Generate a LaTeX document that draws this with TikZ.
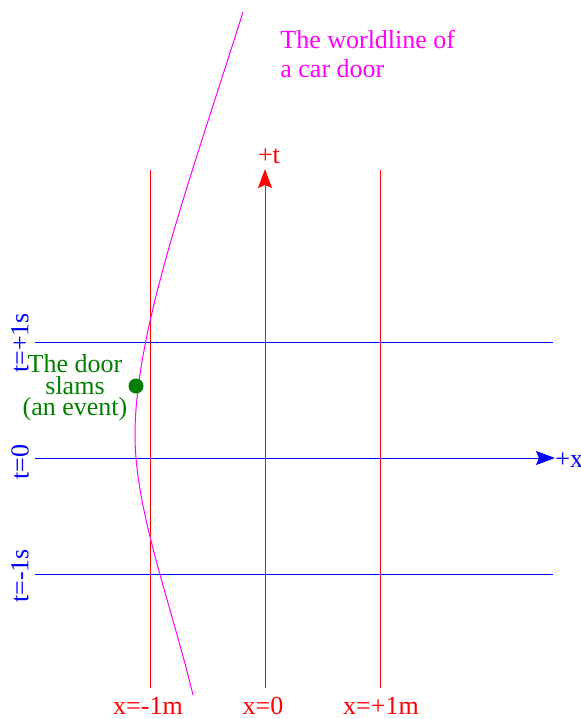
\documentclass[tikz,border=0pt]{standalone}
\usepackage{fontspec}
\setmainfont{Liberation Serif}
\usetikzlibrary{arrows.meta}

\definecolor{doorline}{RGB}{255,0,255}
\definecolor{eventgreen}{RGB}{0,128,0}

\begin{document}
\begin{tikzpicture}[x=0.5pt, y=-0.5pt,
    every node/.style={inner sep=0pt, font=\fontsize{13}{15.6}\selectfont},
    xconst/.style={red, line width=0.5pt},
    tconst/.style={blue, line width=0.5pt},
    axtip/.style={-{Stealth[length=9.5pt, width=7pt, inset=1.5pt]}}]

    \useasboundingbox (0,0) rectangle (580,719);

    % Lines of constant x
    \coordinate (xm1b) at (150,688); \coordinate (xm1t) at (150,170);
    \coordinate (x0b)  at (265,688); \coordinate (x0t)  at (265,169);
    \coordinate (xp1b) at (380,688); \coordinate (xp1t) at (380,170);
    \draw[xconst] (xm1b) -- (xm1t);
    \draw[xconst, axtip] (x0b) -- (x0t);
    \draw[xconst] (xp1b) -- (xp1t);

    % Lines of constant t
    \coordinate (tp1l) at (35,342); \coordinate (tp1r) at (553,342);
    \coordinate (t0l)  at (35,458); \coordinate (t0r)  at (555,458);
    \coordinate (tm1l) at (35,574); \coordinate (tm1r) at (553,574);
    \draw[tconst] (tp1l) -- (tp1r);
    \draw[tconst, axtip] (t0l) -- (t0r);
    \draw[tconst] (tm1l) -- (tm1r);

    % Axis labels
    \node[red] (tlab) at (269,156) {+t};
    \node[blue, anchor=west] (xlab) at (555,460) {+x};
    \node[red, anchor=base] (xm1lab) at (148,714) {x=-1m};
    \node[red, anchor=base] (x0lab) at (263,714) {x=0};
    \node[red, anchor=base] (xp1lab) at (381,714) {x=+1m};
    \node[blue, rotate=90] (tp1lab) at (20,343) {t=+1s};
    \node[blue, rotate=90] (t0lab) at (20,462) {t=0};
    \node[blue, rotate=90] (tm1lab) at (20,576) {t=-1s};

    % Worldline of the door
    \draw[doorline, line width=0.5pt] (243,12)
        .. controls (190,180) and (135,330) .. (135,435)
        .. controls (135,510) and (170,600) .. (193,695);
    \node[doorline, anchor=north west, align=left,
          font=\fontsize{13}{14.5}\selectfont] (wlab) at (280,30)
        {The worldline of\\a car door};

    % The event
    \node[circle, fill=eventgreen, minimum size=7.5pt] (slam) at (136,386) {};
    \node[eventgreen, anchor=north, align=center,
          font=\fontsize{13}{10.8}\selectfont] (slamlab) at (75,354)
        {The door\\slams\\(an event)};

\end{tikzpicture}
\end{document}
